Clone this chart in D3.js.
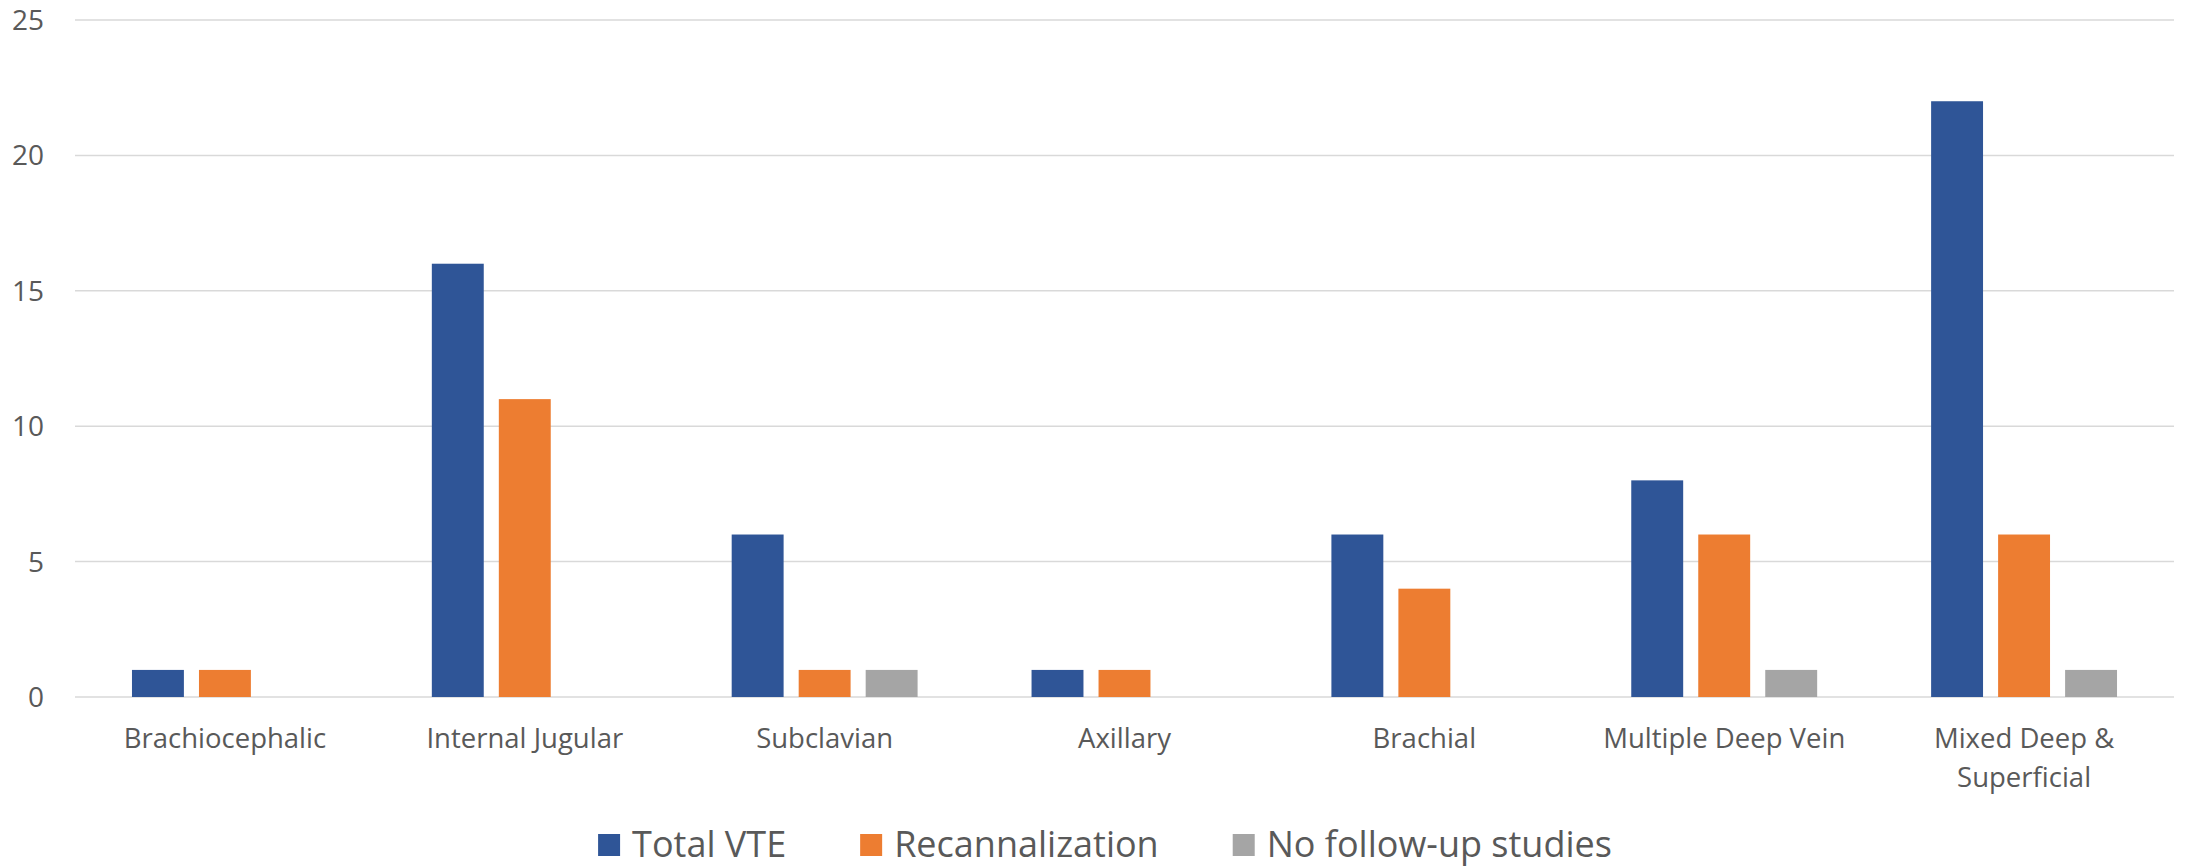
<!DOCTYPE html>
<html>
<head>
<meta charset="utf-8">
<script src="https://cdn.jsdelivr.net/npm/d3@7"></script>
<style>
  html, body { margin: 0; padding: 0; background: #ffffff; }
  svg { display: block; font-family: "Open Sans", "Noto Sans", sans-serif; }
</style>
</head>
<body>
<svg id="chart" width="2186" height="868"></svg>
<script>
// Upper-extremity VTE by vein location
const categories = [
  ["Brachiocephalic"],
  ["Internal Jugular"],
  ["Subclavian"],
  ["Axillary"],
  ["Brachial"],
  ["Multiple Deep Vein"],
  ["Mixed Deep &", "Superficial"]
];
const seriesNames = ["Total VTE", "Recannalization", "No follow-up studies"];
const totalVTE        = [1, 16, 6, 1, 6, 8, 22];
const recannalization = [1, 11, 1, 1, 4, 6, 6];
const noFollowUp      = [0, 0, 1, 0, 0, 1, 1];
const yTicks = [0, 5, 10, 15, 20, 25];
const colors = ["#2F5597", "#ED7D31", "#A5A5A5"];

const seriesValues = [totalVTE, recannalization, noFollowUp];

const svg = d3.select("#chart");
const margin = { left: 75, right: 12, top: 20, bottom: 171 };
const W = 2186, H = 868;
const plotBottom = H - margin.bottom;   // 697

const x0 = d3.scaleBand()
  .domain(categories.map((c, i) => i))
  .range([margin.left, W - margin.right])
  .paddingInner(0.38)
  .paddingOuter(0.19);

const x1 = d3.scaleBand()
  .domain(seriesNames)
  .range([0, x0.bandwidth()])
  .paddingInner(0.225);

const y = d3.scaleLinear()
  .domain([0, 25])
  .range([plotBottom, margin.top]);

// gridlines
svg.append("g")
  .selectAll("line")
  .data(yTicks)
  .join("line")
  .attr("x1", margin.left)
  .attr("x2", W - margin.right)
  .attr("y1", d => y(d))
  .attr("y2", d => y(d))
  .attr("stroke", "#D9D9D9")
  .attr("stroke-width", 1.5);

// y tick labels
svg.append("g")
  .selectAll("text")
  .data(yTicks)
  .join("text")
  .attr("x", 44)
  .attr("y", d => y(d))
  .attr("dy", "0.36em")
  .attr("text-anchor", "end")
  .attr("fill", "#595959")
  .attr("font-size", 28)
  .text(d => d);

// bars
const groups = svg.append("g")
  .selectAll("g")
  .data(categories.map((c, i) => i))
  .join("g")
  .attr("transform", i => `translate(${x0(i)},0)`);

groups.selectAll("rect")
  .data(i => seriesNames.map((s, k) => ({ s, k, v: seriesValues[k][i] })).filter(d => d.v > 0))
  .join("rect")
  .attr("x", d => x1(d.s))
  .attr("width", x1.bandwidth())
  .attr("y", d => y(d.v))
  .attr("height", d => y(0) - y(d.v))
  .attr("fill", d => colors[d.k]);

// category labels
const catLabels = svg.append("g")
  .selectAll("text")
  .data(categories)
  .join("text")
  .attr("text-anchor", "middle")
  .attr("fill", "#595959")
  .attr("font-size", 27.5)
  .attr("transform", (c, i) => `translate(${x0(i) + x0.bandwidth() / 2},748)`);

catLabels.selectAll("tspan")
  .data(c => c)
  .join("tspan")
  .attr("x", 0)
  .attr("y", (d, j) => j * 39)
  .text(d => d);

// legend
const legend = svg.append("g");
const swatch = 22, swGap = 12, itemGap = 74;
const items = legend.selectAll("g")
  .data(seriesNames)
  .join("g");
items.append("rect")
  .attr("width", swatch)
  .attr("height", swatch)
  .attr("y", -swatch - 1)
  .attr("fill", (d, k) => colors[k]);
items.append("text")
  .attr("x", swatch + swGap)
  .attr("y", 0)
  .attr("fill", "#595959")
  .attr("font-size", 36)
  .text(d => d);

let offset = 0;
const positions = [];
items.each(function () {
  const tw = d3.select(this).select("text").node().getComputedTextLength();
  positions.push(offset);
  offset += swatch + swGap + tw + itemGap;
});
const legendWidth = offset - itemGap;
const legendStart = 1105 - legendWidth / 2;
items.attr("transform", (d, k) => `translate(${legendStart + positions[k]},857)`);
</script>
</body>
</html>
